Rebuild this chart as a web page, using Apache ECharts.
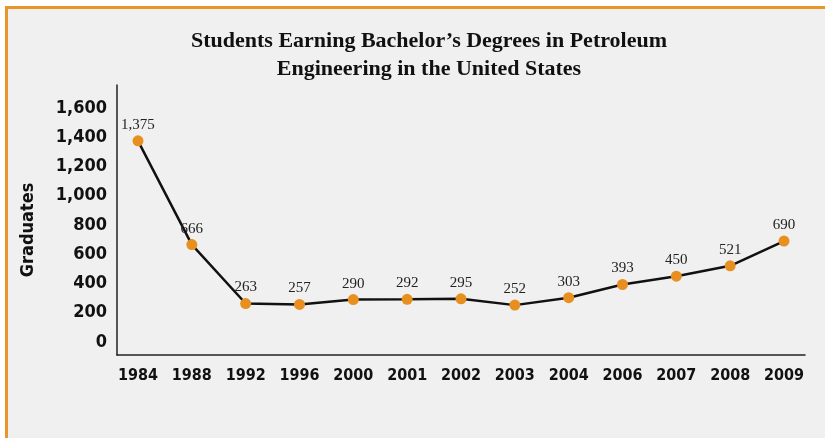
<!DOCTYPE html>
<html>
<head>
<meta charset="utf-8">
<script src="https://cdn.jsdelivr.net/npm/echarts@6/dist/echarts.min.js"></script>
<style>
    html, body { margin: 0; padding: 0; background: #fff; }
    #chart { width: 825px; height: 438px; }
</style>
</head>
<body>
<div id="chart"></div>
<script>
const years = ['1984', '1988', '1992', '1996', '2000', '2001', '2002', '2003', '2004', '2006', '2007', '2008', '2009'];
const graduates = [1375, 666, 263, 257, 290, 292, 295, 252, 303, 393, 450, 521, 690];
const yTicks = [0, 200, 400, 600, 800, 1000, 1200, 1400, 1600];

const orange = '#e8901f';
const chart = echarts.init(document.getElementById('chart'));

const fmt = v => v.toLocaleString('en-US');

chart.setOption({
    backgroundColor: '#fff',
    animation: false,
    title: {
        text: 'Students Earning Bachelor\u2019s Degrees in Petroleum\nEngineering in the United States',
        left: 424,
        top: 22,
        textAlign: 'center',
        textStyle: {
            fontFamily: 'Liberation Serif',
            fontWeight: 'bold',
            fontSize: 22,
            lineHeight: 28,
            color: '#111'
        }
    },
    graphic: [
        {
            type: 'rect',
            z: -10,
            shape: { x: 5, y: 6, width: 830, height: 440 },
            style: { fill: '#e8952a' }
        },
        {
            type: 'rect',
            z: -9,
            shape: { x: 8, y: 9, width: 830, height: 440 },
            style: { fill: '#f0f0f0' }
        },
        {
            type: 'text',
            x: 28,
            y: 230,
            rotation: Math.PI / 2,
            style: {
                text: 'Graduates',
                fontFamily: 'DejaVu Sans Condensed',
                fontWeight: 'bold',
                fontSize: 18,
                fill: '#111',
                align: 'center',
                verticalAlign: 'middle'
            }
        }
    ],
    grid: {
        left: 117,
        right: 20,
        top: 85,
        bottom: 83
    },
    xAxis: {
        type: 'value',
        min: -0.39,
        max: 12.39,
        splitLine: { show: false },
        axisLine: { show: true, onZero: false, lineStyle: { color: '#222', width: 1.5 } },
        axisTick: { show: false },
        axisLabel: {
            customValues: years.map((y, i) => i),
            formatter: v => years[Math.round(v)],
            margin: 13,
            fontFamily: 'DejaVu Sans Condensed',
            fontWeight: 'bold',
            fontSize: 16,
            color: '#111'
        }
    },
    yAxis: {
        type: 'value',
        min: -89,
        max: 1757,
        splitLine: { show: false },
        axisLine: { show: true, onZero: false, lineStyle: { color: '#222', width: 1.5 } },
        axisTick: { show: false },
        axisLabel: {
            customValues: yTicks,
            formatter: v => fmt(v),
            margin: 10,
            fontFamily: 'DejaVu Sans Condensed',
            fontWeight: 'bold',
            fontSize: 18,
            color: '#111'
        }
    },
    series: [
        {
            type: 'line',
            data: graduates.map((v, i) => [i, v]),
            symbol: 'circle',
            symbolSize: 11,
            lineStyle: { color: '#111', width: 2.5 },
            itemStyle: { color: orange },
            label: {
                show: true,
                position: 'top',
                distance: 3,
                formatter: p => fmt(p.value[1]),
                fontFamily: 'Liberation Serif',
                fontSize: 15,
                color: '#222'
            }
        }
    ]
});
</script>
</body>
</html>
